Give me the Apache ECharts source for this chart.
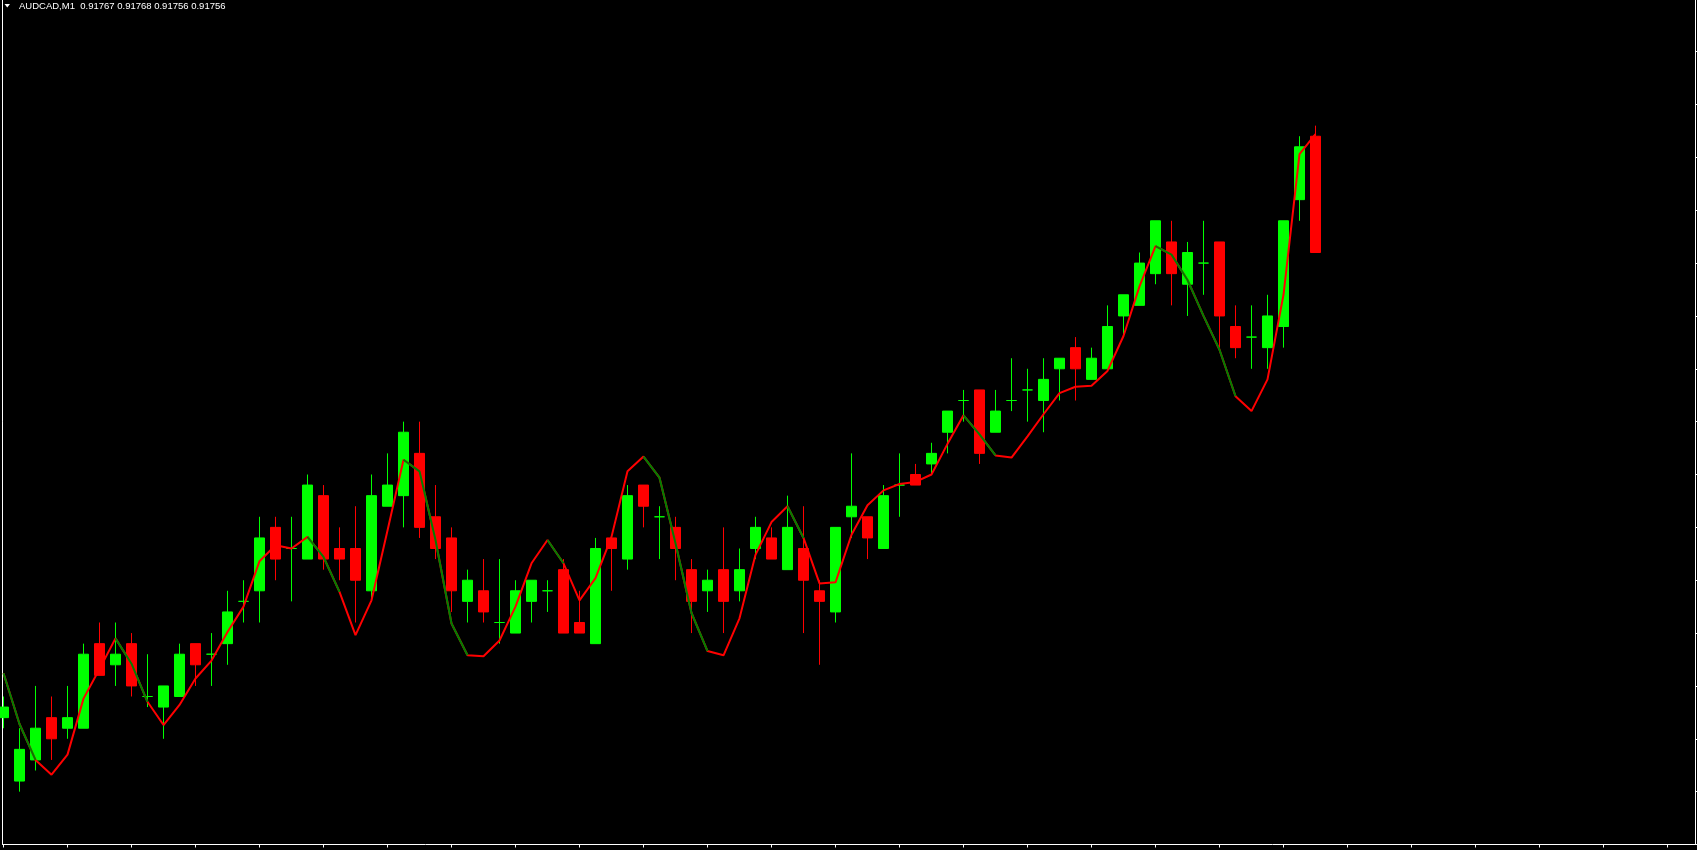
<!DOCTYPE html>
<html><head><meta charset="utf-8">
<script src="https://cdn.jsdelivr.net/npm/echarts@6/dist/echarts.min.js"></script>
<style>html,body{margin:0;padding:0;background:#000;overflow:hidden}#c{width:1697px;height:850px;}</style>
</head><body><div id="c"></div>
<script>
const symbolName = 'AUDCAD,M1';
const headerValues = ['0.91767', '0.91768', '0.91756', '0.91756'];

const openP = [
0.91712,0.91706,0.91708,0.91712,0.91711,0.91711,0.91719,0.91717,0.91719,0.91714,
0.91713,0.91714,0.91719,0.91718,0.91719,0.91723,0.91724,0.91730,0.91728,0.91727,
0.91733,0.91728,0.91728,0.91724,0.91732,0.91733,0.91737,0.91731,0.91729,0.91723,
0.91724,0.91721,0.91720,0.91723,0.91724,0.91726,0.91721,0.91719,0.91729,0.91727,
0.91734,0.91731,0.91730,0.91726,0.91724,0.91726,0.91724,0.91728,0.91729,0.91726,
0.91728,0.91724,0.91722,0.91731,0.91731,0.91728,0.91734,0.91735,0.91736,0.91739,
0.91742,0.91743,0.91739,0.91742,0.91743,0.91742,0.91745,0.91747,0.91744,0.91745,
0.91750,0.91751,0.91754,0.91757,0.91753,0.91755,0.91757,0.91749,0.91748,0.91747,
0.91749,0.91761,0.91767];
const closeP = [
0.91713,0.91709,0.91711,0.91710,0.91712,0.91718,0.91716,0.91718,0.91715,0.91714,
0.91715,0.91718,0.91717,0.91718,0.91722,0.91723,0.91729,0.91727,0.91728,0.91734,
0.91727,0.91727,0.91725,0.91733,0.91734,0.91739,0.91730,0.91728,0.91724,0.91725,
0.91722,0.91721,0.91724,0.91725,0.91724,0.91720,0.91720,0.91728,0.91728,0.91733,
0.91732,0.91731,0.91728,0.91723,0.91725,0.91723,0.91726,0.91730,0.91727,0.91730,
0.91725,0.91723,0.91730,0.91732,0.91729,0.91733,0.91734,0.91734,0.91737,0.91741,
0.91742,0.91737,0.91741,0.91742,0.91743,0.91744,0.91746,0.91745,0.91746,0.91749,
0.91752,0.91755,0.91759,0.91754,0.91756,0.91755,0.91750,0.91747,0.91748,0.91750,
0.91759,0.91766,0.91756];
const lowP = [
0.91711,0.91705,0.91707,0.91708,0.91710,0.91711,0.91716,0.91715,0.91714,0.91713,
0.91710,0.91714,0.91715,0.91715,0.91717,0.91721,0.91721,0.91725,0.91723,0.91727,
0.91726,0.91725,0.91721,0.91723,0.91732,0.91730,0.91729,0.91727,0.91722,0.91721,
0.91721,0.91719,0.91720,0.91721,0.91722,0.91720,0.91720,0.91719,0.91724,0.91726,
0.91730,0.91727,0.91725,0.91720,0.91722,0.91720,0.91723,0.91727,0.91727,0.91726,
0.91720,0.91717,0.91721,0.91729,0.91727,0.91728,0.91731,0.91734,0.91735,0.91737,
0.91740,0.91736,0.91739,0.91741,0.91740,0.91739,0.91742,0.91742,0.91744,0.91745,
0.91748,0.91751,0.91753,0.91751,0.91750,0.91752,0.91747,0.91746,0.91745,0.91745,
0.91747,0.91759,0.91756];
const highP = [
0.91714,0.91711,0.91715,0.91714,0.91715,0.91719,0.91721,0.91721,0.91720,0.91718,
0.91715,0.91719,0.91719,0.91720,0.91724,0.91725,0.91731,0.91731,0.91731,0.91735,
0.91734,0.91730,0.91732,0.91735,0.91737,0.91740,0.91740,0.91734,0.91730,0.91726,
0.91727,0.91727,0.91725,0.91725,0.91725,0.91727,0.91724,0.91729,0.91729,0.91734,
0.91734,0.91732,0.91731,0.91727,0.91726,0.91730,0.91728,0.91731,0.91730,0.91733,
0.91732,0.91725,0.91730,0.91737,0.91731,0.91734,0.91737,0.91736,0.91738,0.91741,
0.91743,0.91743,0.91743,0.91746,0.91745,0.91746,0.91746,0.91748,0.91747,0.91751,
0.91752,0.91756,0.91759,0.91759,0.91757,0.91759,0.91757,0.91751,0.91751,0.91752,
0.91759,0.91767,0.91768];
const maLine = [
0.917162,0.917114,0.917080,0.917066,0.917085,0.917138,0.917166,0.917195,0.917171,0.917135,
0.917113,0.917132,0.917157,0.917174,0.917201,0.917225,0.917268,0.917283,0.917280,0.917291,
0.917272,0.917239,0.917198,0.917231,0.917297,0.917364,0.917353,0.917288,0.917209,0.917179,
0.917178,0.917193,0.917225,0.917266,0.917288,0.917266,0.917231,0.917252,0.917291,0.917353,
0.917367,0.917347,0.917285,0.917219,0.917183,0.917179,0.917214,0.917274,0.917305,0.917320,
0.917290,0.917247,0.917248,0.917293,0.917321,0.917335,0.917341,0.917343,0.917350,0.917379,
0.917406,0.917388,0.917368,0.917366,0.917386,0.917407,0.917427,0.917433,0.917434,0.917448,
0.917481,0.917528,0.917566,0.917558,0.917534,0.917500,0.917468,0.917424,0.917410,0.917440,
0.917520,0.917653,0.917672];

const xTicks = [0,4,8,12,16,20,24,28,32,36,40,44,48,52,56,60,64,68,72,76,80,84,88,92,96,100,104];
const yMin = 0.91700, yMax = 0.91780, yStep = 0.00005;

// build series data
const candles = openP.map((o, i) => [i, o, closeP[i], lowP[i], highP[i]]);
const maAll = maLine.map((v, i) => [i, v]);
// segment (i-1 -> i) drawn in the "down" colour when the line falls into and out of point i
const segDown = maLine.map((v, i) => i > 0 && v < maLine[i - 1] && (i + 1 < maLine.length && maLine[i + 1] < v));
const maDown = maLine.map((v, i) => [i, (segDown[i] || segDown[i + 1]) ? v : null]);

const chart = echarts.init(document.getElementById('c'), null, {renderer: 'canvas'});
const axisCol = '#ffffff';
chart.setOption({
  animation: false,
  backgroundColor: '#000000',
  grid: {left: 2.5, right: 1.5, top: -1.2, bottom: 5.5, containLabel: false, outerBoundsMode: 'none'},
  xAxis: {
    type: 'value', min: -0.0625, max: 105.75,
    axisLine: {show: true, onZero: false, lineStyle: {color: axisCol, width: 1}},
    axisTick: {show: true, customValues: xTicks, length: 3, lineStyle: {color: axisCol}},
    axisLabel: {show: false},
    splitLine: {show: false}
  },
  yAxis: [{
    type: 'value', position: 'right', min: yMin, max: yMax, interval: yStep, scale: true,
    axisLine: {show: true, onZero: false, lineStyle: {color: axisCol, width: 1}},
    axisTick: {show: true, length: 5, lineStyle: {color: axisCol}},
    axisLabel: {show: false},
    splitLine: {show: false}
  }, {
    type: 'value', position: 'left', min: yMin, max: yMax, interval: yStep, scale: true,
    axisLine: {show: true, onZero: false, lineStyle: {color: axisCol, width: 1}},
    axisTick: {show: false}, axisLabel: {show: false}, splitLine: {show: false}
  }],
  graphic: [
    {type: 'polygon', shape: {points: [[4.5, 4], [10, 4], [7.25, 7.5]]}, style: {fill: '#ffffff'}},
    {type: 'text', x: 19, y: 1.2, style: {text: symbolName + '  ' + headerValues.join(' '),
      fill: '#ffffff', font: '9.5px "Liberation Sans", Arial, sans-serif', verticalAlign: 'top'}}
  ],
  series: [{
    type: 'candlestick',
    data: candles,
    encode: {x: 0, y: [1, 2, 3, 4]},
    barWidth: 10,
    clip: true,
    itemStyle: {color: '#00ff00', color0: '#ff0000', borderColor: '#00ff00', borderColor0: '#ff0000',
      borderColorDoji: '#00ff00', borderWidth: 1}
  }, {
    type: 'line', data: maAll, symbol: 'none', clip: true, z: 3,
    lineStyle: {color: '#ff0000', width: 2}
  }, {
    type: 'line', data: maDown, symbol: 'none', clip: true, z: 4, connectNulls: false,
    lineStyle: {color: '#008000', width: 2}
  }]
});
</script></body></html>
